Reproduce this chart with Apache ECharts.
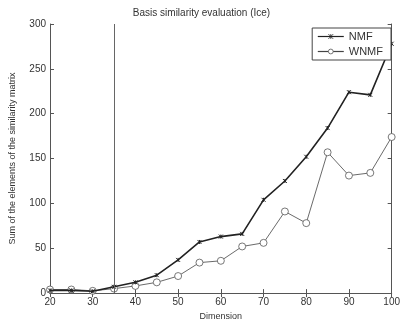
<!DOCTYPE html>
<html><head><meta charset="utf-8">
<script src="https://cdn.jsdelivr.net/npm/echarts@6/dist/echarts.min.js"></script>
<style>html,body{margin:0;padding:0;background:#fff}#c{width:403px;height:326px}</style>
</head><body><div id="c"></div>
<script>
var dimensions = [20,25,30,35,40,45,50,55,60,65,70,75,80,85,90,95,100];
var nmf = [3,3,2,7,12,20,37,57,63,66,104,125,152,184,224,221,278];
var wnmf = [4,4,2.5,5,8,12,19,34,36,52,56,91,78,157,131,134,174];
var xTicks = [20,30,40,50,60,70,80,90,100];
var yTicks = [0,50,100,150,200,250,300];
var markerX = 35;

var font = 'Liberation Sans';
var txt = '#333';
var chart = echarts.init(document.getElementById('c'), null, {renderer:'canvas'});
var baseAxis = {
  min: 20, max: 100, interval: 10,
  axisLine:{show:true, lineStyle:{color:'#555', width:1}},
  axisTick:{show:true, inside:true, length:4, lineStyle:{color:'#555'}},
  splitLine:{show:false}
};
chart.setOption({
  animation:false,
  title:{text:'Basis similarity evaluation (Ice)', left:'center', top:3,
    textStyle:{fontFamily:font, fontSize:10, fontWeight:'normal', color:txt}},
  legend:{
    right:12, top:28, orient:'vertical', itemGap:4, itemWidth:26, itemHeight:6,
    backgroundColor:'#fff', borderColor:'#444', borderWidth:1, padding:[3,8,3,5],
    textStyle:{fontFamily:font, fontSize:11, color:txt},
    itemStyle:{borderWidth:0.8},
    lineStyle:{width:1.2},
    data:['NMF','WNMF']
  },
  grid:{left:48, right:7, top:24, bottom:28},
  xAxis:[
    Object.assign({}, baseAxis, {type:'value', position:'bottom',
      name:'Dimension', nameLocation:'middle', nameGap:17,
      nameTextStyle:{fontFamily:font, fontSize:9, color:txt},
      axisLabel:{fontFamily:font, fontSize:10, color:txt, margin:4}}),
    Object.assign({}, baseAxis, {type:'value', position:'top', axisLabel:{show:false}})
  ],
  yAxis:[
    {type:'value', min:0, max:300, interval:50, position:'left',
      name:'Sum of the elements of the similarity matrix', nameLocation:'middle', nameGap:33,
      nameTextStyle:{fontFamily:font, fontSize:9, color:txt},
      axisLine:{show:true, lineStyle:{color:'#555'}},
      axisTick:{show:true, inside:true, length:4, lineStyle:{color:'#555'}},
      axisLabel:{fontFamily:font, fontSize:10, color:txt, margin:4},
      splitLine:{show:false}},
    {type:'value', min:0, max:300, interval:50, position:'right',
      axisLine:{show:true, lineStyle:{color:'#555'}},
      axisTick:{show:true, inside:true, length:4, lineStyle:{color:'#555'}},
      axisLabel:{show:false}, splitLine:{show:false}}
  ],
  series:[
    {name:'NMF', type:'line', xAxisIndex:0, yAxisIndex:0,
      data: dimensions.map(function(d,i){return [d,nmf[i]];}),
      symbol:'path://M0,0L10,10M10,0L0,10M5,0L5,10', symbolSize:4,
      lineStyle:{color:'#222', width:1.6}, itemStyle:{color:'#222', borderColor:'#222', borderWidth:1},
      markLine:{silent:true, symbol:'none', label:{show:false},
        lineStyle:{color:'#666', type:'solid', width:1},
        data:[{xAxis:markerX}]},
      z:3},
    {name:'WNMF', type:'line', xAxisIndex:0, yAxisIndex:0,
      data: dimensions.map(function(d,i){return [d,wnmf[i]];}),
      symbol:'circle', symbolSize:7,
      lineStyle:{color:'#444', width:0.8}, itemStyle:{color:'#fff', borderColor:'#555', borderWidth:0.8},
      z:2}
  ]
});
</script></body></html>
